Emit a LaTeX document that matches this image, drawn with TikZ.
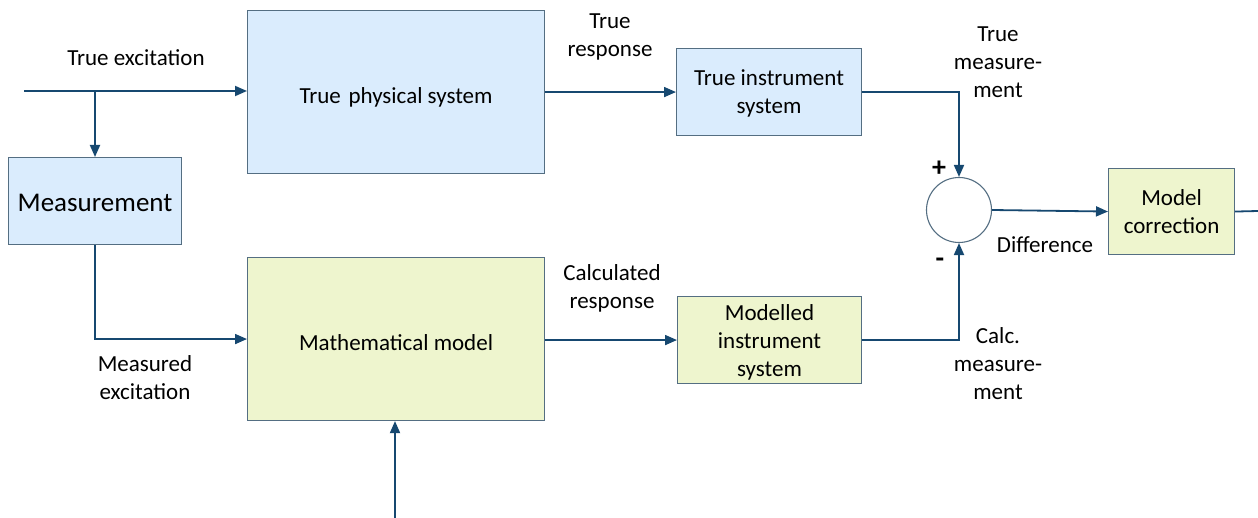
\documentclass[tikz,border=0pt]{standalone}
\usepackage{fontspec}
\setmainfont{Carlito}
\usetikzlibrary{arrows.meta,positioning,calc}
\definecolor{bluefill}{RGB}{218,236,253}
\definecolor{greenfill}{RGB}{238,245,206}
\definecolor{edge}{RGB}{84,110,130}
\definecolor{wire}{RGB}{22,72,112}
\begin{document}
\begin{tikzpicture}[x=1pt,y=-1pt,
  font=\fontsize{23}{28}\selectfont,
  box/.style={draw=edge,line width=1.1pt,inner sep=0pt,align=center,anchor=north west,text depth=0pt},
  bluebox/.style={box,fill=bluefill},
  greenbox/.style={box,fill=greenfill},
  arr/.style={draw=wire,line width=1.8pt,-{Triangle[length=12pt,width=10pt]}},
  wireline/.style={draw=wire,line width=1.8pt},
  lbl/.style={align=center,inner sep=0pt}]
\useasboundingbox (0,0) rectangle (1258,518);

% blocks
\node[bluebox,minimum width=297pt,minimum height=163pt,text height=22pt] (tps) at (247,10) {True\,\,physical system};
\node[bluebox,minimum width=173pt,minimum height=87pt,text height=21pt,font=\fontsize{27}{30}\selectfont] (meas) at (8,157) {Measurement};
\node[bluebox,minimum width=185pt,minimum height=87pt] (tis) at (676,48) {True instrument\\system};
\node[greenbox,minimum width=297pt,minimum height=163pt,text height=22pt] (mm) at (247,257) {Mathematical model};
\node[greenbox,minimum width=184pt,minimum height=87pt] (mis) at (677,296) {Modelled\\instrument\\system};
\node[greenbox,minimum width=126pt,minimum height=86pt] (mc) at (1108,168) {Model\\correction};
\node[draw=edge,line width=1.1pt,circle,fill=white,minimum size=65pt,inner sep=0pt] (sum) at (959,210) {};

% free ends
\coordinate (in) at (24,91);
\coordinate (split) at (95,91);
\coordinate (out) at (1258,211);
\coordinate (param) at (395,518);

% connectors
\draw[arr] (in) -- (in -| tps.west);
\draw[arr] (split) -- (meas.north -| split);
\draw[arr] (tps.east |- tis.west) -- (tis.west);
\draw[arr] (tis.east) -| (sum.north);
\draw[arr] (sum.east) -- (mc.west);
\draw[wireline] (mc.east) -- (out);
\draw[arr] (meas.south -| split) |- (mm.west);
\draw[arr] (mm.east |- mis.west) -- (mis.west);
\draw[arr] (mis.east) -| (sum.south);
\draw[arr] (param) -- (param |- mm.south);

% labels
\node[lbl] (l1) at (136,58) {True excitation};
\node[lbl] (l2) at (610,37) {True\\response};
\node[lbl] (l3) at (998,62) {True\\measure-\\ment};
\node[lbl,font=\bfseries\fontsize{28}{28}\selectfont] (lp) at (939,169) {+};
\node[lbl,font=\bfseries\fontsize{28}{28}\selectfont] (lm) at (940,263) {-};
\node[lbl] (l4) at (1045,245) {Difference};
\node[lbl] (l5) at (145,378) {Measured\\excitation};
\node[lbl] (l6) at (612,288) {Calculated\\response};
\node[lbl] (l7) at (998,364) {Calc.\\measure-\\ment};
\end{tikzpicture}
\end{document}
